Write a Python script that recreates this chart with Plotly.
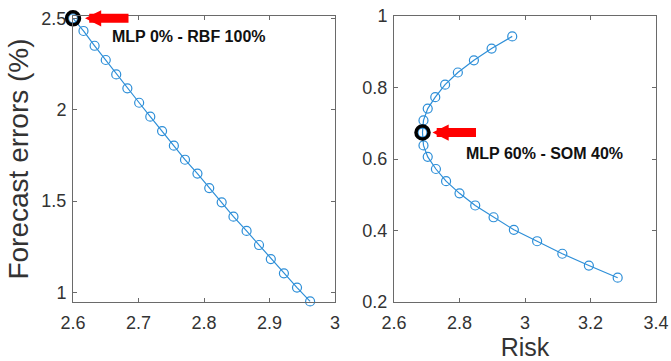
import plotly.graph_objects as go

# Left panel: MLP–RBF combinations
risk_rbf = [2.600, 2.616, 2.633, 2.650, 2.666, 2.683, 2.701, 2.718, 2.736, 2.754, 2.771,
            2.790, 2.808, 2.827, 2.845, 2.865, 2.884, 2.902, 2.922, 2.942, 2.962]
err_rbf = [2.500, 2.431, 2.350, 2.272, 2.193, 2.117, 2.038, 1.962, 1.883, 1.803, 1.726,
           1.650, 1.571, 1.493, 1.414, 1.336, 1.259, 1.182, 1.104, 1.026, 0.950]

# Right panel: MLP–SOM combinations
risk_som = [2.961, 2.898, 2.844, 2.795, 2.756, 2.726, 2.703, 2.690, 2.687, 2.690, 2.703,
            2.728, 2.759, 2.800, 2.848, 2.904, 2.966, 3.037, 3.114, 3.195, 3.283]
err_som = [0.943, 0.909, 0.876, 0.842, 0.808, 0.773, 0.741, 0.708, 0.674, 0.638, 0.606,
           0.572, 0.538, 0.504, 0.470, 0.437, 0.402, 0.370, 0.335, 0.302, 0.268]

best_left_idx = 0
best_right_idx = 8
label_left = "MLP 0% - RBF 100%"
label_right = "MLP 60% - SOM 40%"

left_xticks = [2.6, 2.7, 2.8, 2.9, 3.0]
left_xtext = ["2.6", "2.7", "2.8", "2.9", "3"]
left_yticks = [1, 1.5, 2, 2.5]
left_ytext = ["1", "1.5", "2", "2.5"]
right_xticks = [2.6, 2.8, 3.0, 3.2, 3.4]
right_xtext = ["2.6", "2.8", "3", "3.2", "3.4"]
right_yticks = [0.2, 0.4, 0.6, 0.8, 1.0]
right_ytext = ["0.2", "0.4", "0.6", "0.8", "1"]

BLUE = "#2e8fd8"
FONT = "Liberation Sans, Arial, sans-serif"
AX = "#6a6a6a"

fig = go.Figure()

for xs, ys, xa, ya in [(risk_rbf, err_rbf, "x", "y"), (risk_som, err_som, "x2", "y2")]:
    fig.add_trace(go.Scatter(
        x=xs, y=ys, xaxis=xa, yaxis=ya, mode="lines+markers",
        line=dict(color=BLUE, width=1.2),
        marker=dict(symbol="circle-open", size=9, color=BLUE, line=dict(width=1.2)),
        showlegend=False, cliponaxis=False))

for xs, ys, i, xa, ya in [(risk_rbf, err_rbf, best_left_idx, "x", "y"),
                          (risk_som, err_som, best_right_idx, "x2", "y2")]:
    fig.add_trace(go.Scatter(
        x=[xs[i]], y=[ys[i]], xaxis=xa, yaxis=ya, mode="markers",
        marker=dict(symbol="circle-open", size=13, color="black", line=dict(width=3.5)),
        showlegend=False, cliponaxis=False))

axcommon = dict(showline=True, linecolor=AX, linewidth=1, mirror="ticks",
                ticks="inside", ticklen=4, tickcolor=AX, showgrid=False, zeroline=False,
                automargin=False,
                tickfont=dict(family=FONT, size=18, color="#333333"))

fig.update_layout(
    width=671, height=361, margin=dict(l=0, r=0, t=0, b=0),
    paper_bgcolor="white", plot_bgcolor="white",
    xaxis=dict(domain=[73/671, 335/671], range=[2.6, 3.0], tickvals=left_xticks,
               ticktext=left_xtext, anchor="y", ticklabelstandoff=4, **axcommon),
    yaxis=dict(domain=[59/361, 345/361], range=[0.947, 2.513], tickvals=left_yticks,
               ticktext=left_ytext, anchor="x", ticklabelstandoff=2,
               title=dict(text="Forecast errors (%)", standoff=4,
                          font=dict(family=FONT, size=28, color="#333333")), **axcommon),
    xaxis2=dict(domain=[394/671, 656/671], range=[2.6, 3.4], tickvals=right_xticks,
                ticktext=right_xtext, anchor="y2", ticklabelstandoff=4,
                title=dict(text="Risk", standoff=4,
                           font=dict(family=FONT, size=25, color="#333333")), **axcommon),
    yaxis2=dict(domain=[59/361, 345/361], range=[0.2, 1.0], tickvals=right_yticks,
                ticktext=right_ytext, anchor="x2", ticklabelstandoff=2, **axcommon),
)

for xs, ys, i, xr, yr, std, ax, tx, ty, txt in [
        (risk_rbf, err_rbf, best_left_idx, "x", "y", 12, 57, 37, -18, label_left),
        (risk_som, err_som, best_right_idx, "x2", "y2", 10, 55, 42, -21, label_right)]:
    fig.add_annotation(x=xs[i], y=ys[i], xref=xr, yref=yr, text="", showarrow=True,
                       arrowhead=2, arrowsize=0.36, arrowwidth=9, arrowcolor="#ff0000",
                       standoff=std, ax=ax, ay=0)
    fig.add_annotation(x=xs[i], y=ys[i], xref=xr, yref=yr, text=txt, showarrow=False,
                       xanchor="left", yanchor="middle", xshift=tx, yshift=ty,
                       font=dict(family=FONT, size=16, color="#111111", weight="bold"))

fig.write_html("out.html")
